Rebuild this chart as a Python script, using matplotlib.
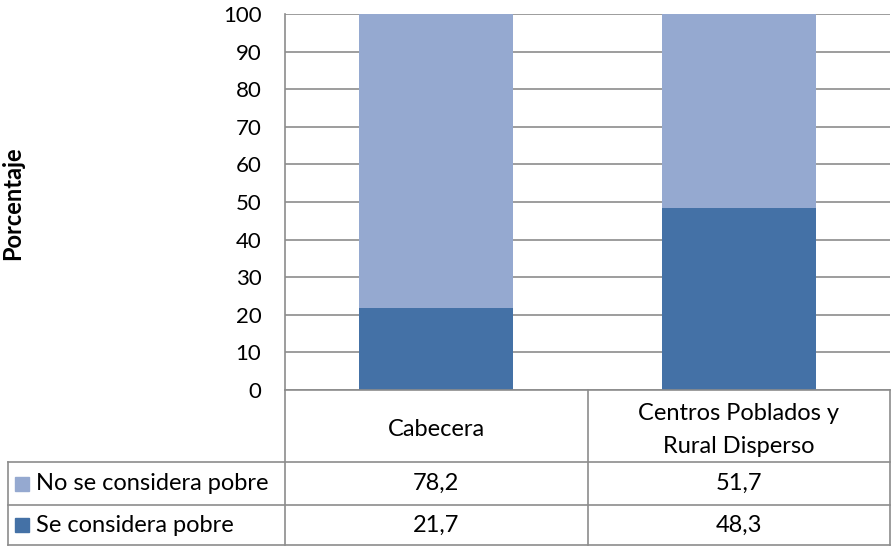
import matplotlib
matplotlib.use('Agg')
import matplotlib.pyplot as plt

categories = ['Cabecera', 'Centros Poblados y\nRural Disperso']
series_names = ['No se considera pobre', 'Se considera pobre']
no_pobre = [78.2, 51.7]
pobre = [21.7, 48.3]
y_ticks = [0, 10, 20, 30, 40, 50, 60, 70, 80, 90, 100]

W, H = 892, 546
dark = '#4471A6'
light = '#95A9D0'
grid_col = '#8C8C8C'
font = 'Lato'
plt.rcParams['font.family'] = [font, 'DejaVu Sans']

fig = plt.figure(figsize=(W / 100, H / 100), dpi=100)

# plot area in pixels
x0, x1, ytop, ybot = 285, 890, 14, 390
ax = fig.add_axes([x0 / W, 1 - ybot / H, (x1 - x0) / W, (ybot - ytop) / H])

pos = list(range(len(categories)))
ax.bar(pos, pobre, width=0.51, color=dark, zorder=3)
ax.bar(pos, no_pobre, width=0.51, bottom=pobre, color=light, zorder=3)

ax.set_xlim(-0.5, len(categories) - 0.5)
ax.set_ylim(0, 100)
ax.set_yticks(y_ticks)
ax.set_yticklabels([str(t) for t in y_ticks], fontsize=16)
ax.tick_params(axis='y', length=0, pad=17)
ax.tick_params(axis='x', length=0, labelbottom=False)
ax.yaxis.grid(True, color=grid_col, linewidth=1.2, zorder=0)
for side in ['top', 'right', 'bottom']:
    ax.spines[side].set_visible(False)
ax.spines['left'].set_color(grid_col)
ax.spines['left'].set_linewidth(1.2)

fig.text(13 / W, 1 - 203 / H, 'Porcentaje', rotation=90, fontsize=17,
         fontweight='bold', ha='center', va='center')

# data table below the plot
def px(x, y):
    return x / W, 1 - y / H

def hline(xa, xb, y):
    fig.add_artist(plt.Line2D([xa / W, xb / W], [1 - y / H, 1 - y / H],
                              color=grid_col, linewidth=1.2))

def vline(x, ya, yb):
    fig.add_artist(plt.Line2D([x / W, x / W], [1 - ya / H, 1 - yb / H],
                              color=grid_col, linewidth=1.2))

row_y = [390, 462, 505, 545]
col_x = [x0, (x0 + x1) / 2, x1]
left_x = 8

hline(x0, x1, row_y[0])
for y in row_y[1:]:
    hline(left_x, x1, y)
vline(left_x, row_y[1], row_y[3])
for x in col_x:
    vline(x, row_y[0], row_y[3])

for i, cat in enumerate(categories):
    cx = (col_x[i] + col_x[i + 1]) / 2
    fig.text(*px(cx, (row_y[0] + row_y[1]) / 2 + 4), cat, ha='center', va='center',
             fontsize=17, linespacing=1.75)

rows = [(series_names[0], light, no_pobre), (series_names[1], dark, pobre)]
for r, (name, col, vals) in enumerate(rows):
    cy = (row_y[r + 1] + row_y[r + 2]) / 2
    fig.patches.append(plt.Rectangle(px(15, cy + 7), 14 / W, 14 / H, color=col,
                                     transform=fig.transFigure, figure=fig))
    fig.text(*px(36, cy), name, ha='left', va='center', fontsize=17)
    for i, v in enumerate(vals):
        cx = (col_x[i] + col_x[i + 1]) / 2
        fig.text(*px(cx, cy), f'{v:.1f}'.replace('.', ','), ha='center', va='center',
                 fontsize=17)

fig.savefig('out.png', dpi=100)
